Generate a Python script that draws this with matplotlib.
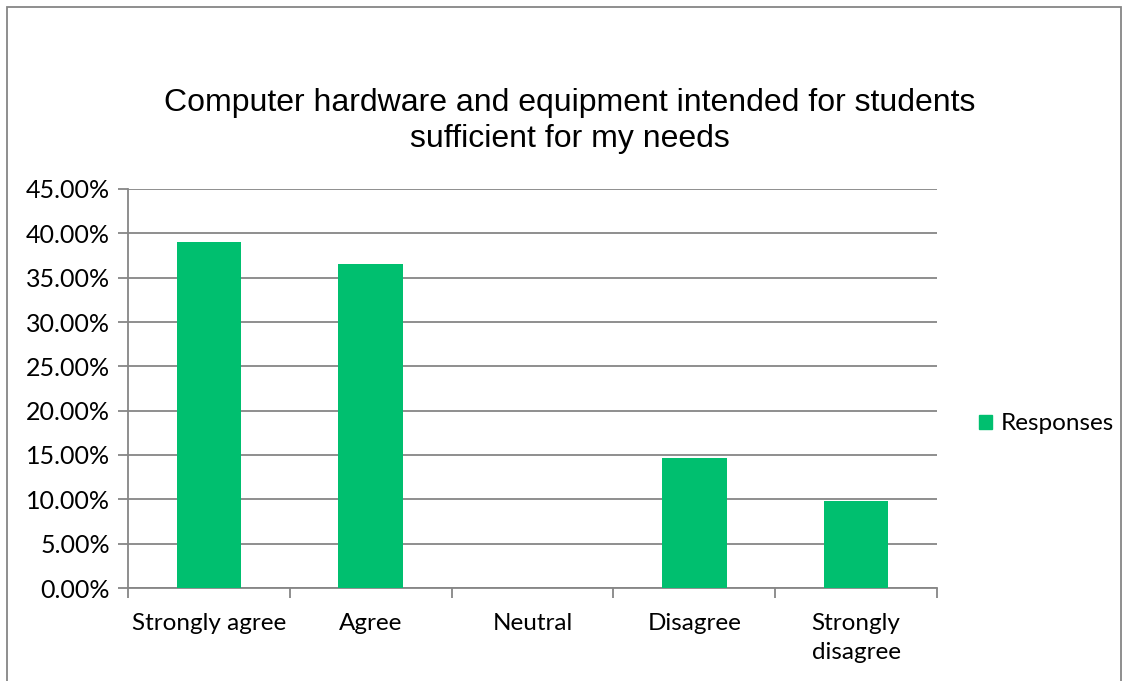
import matplotlib.pyplot as plt
from matplotlib.patches import Rectangle, Patch
from matplotlib.ticker import FuncFormatter, MultipleLocator

categories = ['Strongly agree', 'Agree', 'Neutral', 'Disagree', 'Strongly\ndisagree']
responses = [39.02, 36.59, 0.0, 14.63, 9.76]

green = '#00BF6F'
grid = '#868686'

fig = plt.figure(figsize=(11.28, 6.81), dpi=100)
ax = fig.add_axes([128 / 1128, 1 - 588 / 681, (937 - 128) / 1128, (588 - 189) / 681])

x = range(len(categories))
ax.bar(x, responses, width=0.4, color=green, zorder=3)

ax.set_xlim(-0.5, len(categories) - 0.5)
ax.set_ylim(0, 45)
ax.yaxis.set_major_locator(MultipleLocator(5))
ax.yaxis.set_major_formatter(FuncFormatter(lambda v, p: f'{v:.2f}%'))
ax.grid(axis='y', color=grid, linewidth=1.3, zorder=0)

# category labels between the boundary ticks
ax.set_xticks([i - 0.5 for i in range(len(categories) + 1)])
ax.set_xticklabels([])
ax.set_xticks(list(x), minor=True)
ax.set_xticklabels(categories, minor=True, fontsize=17.5, family='Lato', linespacing=1.45)
ax.tick_params(axis='x', which='minor', length=0, pad=18)
ax.tick_params(axis='x', which='major', length=7, width=1.3, color=grid)
ax.tick_params(axis='y', length=7, width=1.3, color=grid, labelsize=18, pad=6)
for lab in ax.get_yticklabels():
    lab.set_family('Lato')

for s in ['top', 'right']:
    ax.spines[s].set_visible(False)
ax.spines['left'].set_color(grid)
ax.spines['bottom'].set_color(grid)
ax.spines['left'].set_linewidth(1.3)
ax.spines['bottom'].set_linewidth(1.3)

fig.text(0.505, 1 - 121 / 681, 'Computer hardware and equipment intended for students\nsufficient for my needs',
         ha='center', va='center', fontsize=23, family='Liberation Sans', linespacing=1.27)

fig.legend(handles=[Patch(color=green, label='Responses')], loc='center left',
           bbox_to_anchor=(957 / 1128, 1 - 424 / 681), frameon=False,
           prop={'family': 'Lato', 'size': 17.5}, handlelength=0.55, handleheight=0.55,
           handletextpad=0.35)

fig.patches.append(Rectangle((7 / 1128, -0.05), (1121 - 7) / 1128, 1.05 - 7 / 681,
                             transform=fig.transFigure, fill=False, edgecolor=grid, linewidth=1.3))

fig.savefig('out.png', dpi=100)
